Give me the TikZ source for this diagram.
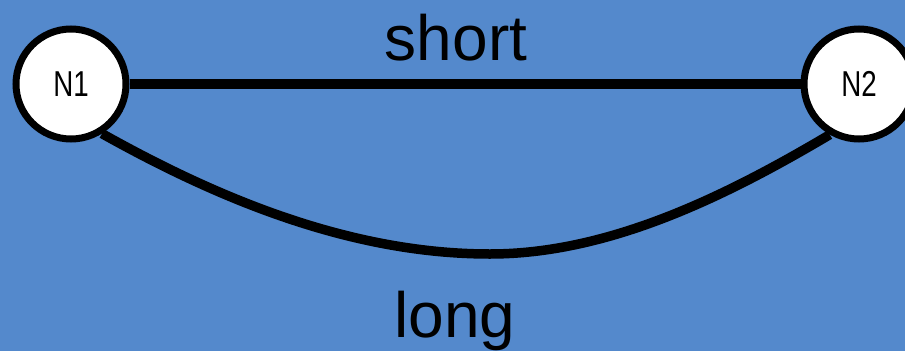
\documentclass[tikz,border=0pt]{standalone}
\usepackage{fontspec}
\setmainfont{Liberation Sans}
\newfontfamily\narrowfont[FakeStretch=0.77]{Liberation Sans}
\definecolor{bgblue}{RGB}{84,137,204}
\begin{document}
\begin{tikzpicture}[x=1pt,y=-1pt,
  nodecircle/.style={circle,draw=black,fill=white,line width=7pt,minimum size=110pt,inner sep=0pt,font=\narrowfont\fontsize{36}{40}\selectfont},
  edgeline/.style={line width=9.5pt,draw=black},
  edgelabel/.style={font=\fontsize{64}{70}\selectfont,text=black,inner sep=0pt}]
\fill[bgblue] (0,0) rectangle (905,351);
\useasboundingbox (0,0) rectangle (905,351);
\node[nodecircle] (N1) at (71,84) {N1};
\node[nodecircle] (N2) at (859,84) {N2};
\coordinate (bottom) at (490,254);
\draw[edgeline] (N1) -- (N2);
\draw[edgeline] (N1.-58) .. controls (217,198) and (350,254) .. (bottom)
  .. controls (610,254) and (728,195) .. (N2.-120);
\node[edgelabel,anchor=base] (short) at (456,60) {short};
\node[edgelabel,anchor=base] (long) at (455,337) {long};
\end{tikzpicture}
\end{document}
